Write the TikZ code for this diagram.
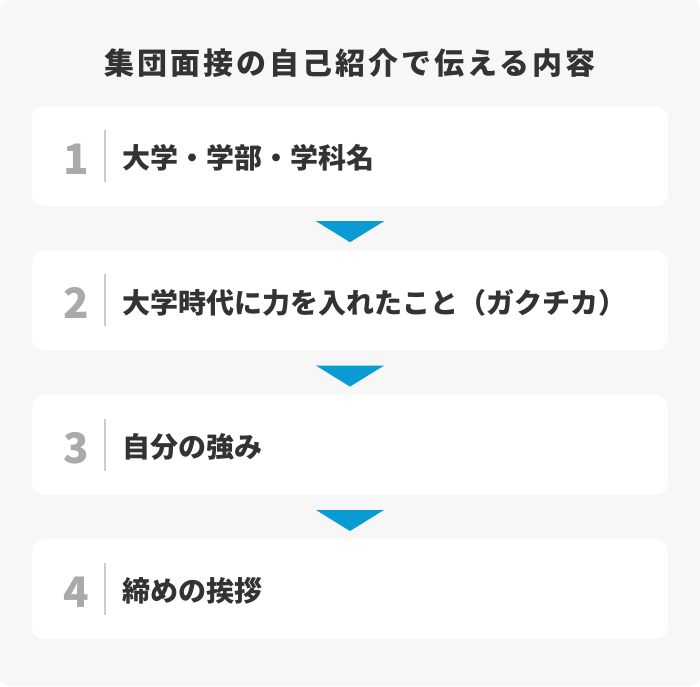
\documentclass[tikz,border=0pt]{standalone}
\usepackage{fontspec}
\setmainfont{Noto Sans CJK JP}
\newfontfamily\titlefont[LetterSpace=10]{Noto Sans CJK JP}
\usetikzlibrary{positioning,calc}
\definecolor{bggray}{HTML}{F7F7F7}
\definecolor{textdark}{HTML}{333333}
\definecolor{numgray}{HTML}{AAAAAA}
\definecolor{linegray}{HTML}{CCCCCC}
\definecolor{arrowblue}{HTML}{0B9BD3}
\tikzstyle{item} = [rectangle, rounded corners=12pt, fill=white, minimum width=636pt, minimum height=100pt, inner sep=0pt]
\tikzstyle{num} = [font=\fontsize{42}{42}\selectfont\bfseries, text=numgray, inner sep=0pt]
\tikzstyle{itemtext} = [anchor=west, font=\fontsize{28}{28}\selectfont\bfseries, text=textdark, inner sep=0pt]
\tikzstyle{divider} = [draw=linegray, line width=2pt]
\tikzstyle{arrowtri} = [fill=arrowblue]

\begin{document}
\begin{tikzpicture}[x=1pt, y=-1pt]
        \useasboundingbox (0,0) rectangle (700,686);
        \fill[bggray, rounded corners=10pt] (0,0) rectangle (700,686);
        
        \node (title) at (350,63) [font=\titlefont\fontsize{30}{30}\selectfont\bfseries, text=textdark, inner sep=0pt] {集団面接の自己紹介で伝える内容};
        
        \node (box1) at (350,156) [item] {};
        \node (box2) [item, below=44pt of box1] {};
        \node (box3) [item, below=44pt of box2] {};
        \node (box4) [item, below=44pt of box3] {};
        
        \node (num1) at ([xshift=44pt, yshift=-3pt]box1.west) [num] {1};
        \draw[divider] ([xshift=73pt, yshift=26pt]box1.west) -- ([xshift=73pt, yshift=-26pt]box1.west);
        \node (text1) at ([xshift=90pt, yshift=-2pt]box1.west) [itemtext] {大学・学部・学科名};
        
        \node (num2) at ([xshift=44pt, yshift=-3pt]box2.west) [num] {2};
        \draw[divider] ([xshift=73pt, yshift=26pt]box2.west) -- ([xshift=73pt, yshift=-26pt]box2.west);
        \node (text2) at ([xshift=90pt, yshift=-2pt]box2.west) [itemtext] {大学時代に力を入れたこと（ガクチカ）};
        
        \node (num3) at ([xshift=44pt, yshift=-3pt]box3.west) [num] {3};
        \draw[divider] ([xshift=73pt, yshift=26pt]box3.west) -- ([xshift=73pt, yshift=-26pt]box3.west);
        \node (text3) at ([xshift=90pt, yshift=-2pt]box3.west) [itemtext] {自分の強み};
        
        \node (num4) at ([xshift=44pt, yshift=-3pt]box4.west) [num] {4};
        \draw[divider] ([xshift=73pt, yshift=26pt]box4.west) -- ([xshift=73pt, yshift=-26pt]box4.west);
        \node (text4) at ([xshift=90pt, yshift=-2pt]box4.west) [itemtext] {締めの挨拶};
        
        \fill[arrowtri] ([xshift=-34pt, yshift=-15pt]box1.south) -- ([xshift=34pt, yshift=-15pt]box1.south) -- ([yshift=-36pt]box1.south) -- cycle;
        \fill[arrowtri] ([xshift=-34pt, yshift=-15pt]box2.south) -- ([xshift=34pt, yshift=-15pt]box2.south) -- ([yshift=-36pt]box2.south) -- cycle;
        \fill[arrowtri] ([xshift=-34pt, yshift=-15pt]box3.south) -- ([xshift=34pt, yshift=-15pt]box3.south) -- ([yshift=-36pt]box3.south) -- cycle;
        
    \end{tikzpicture}
\end{document}
